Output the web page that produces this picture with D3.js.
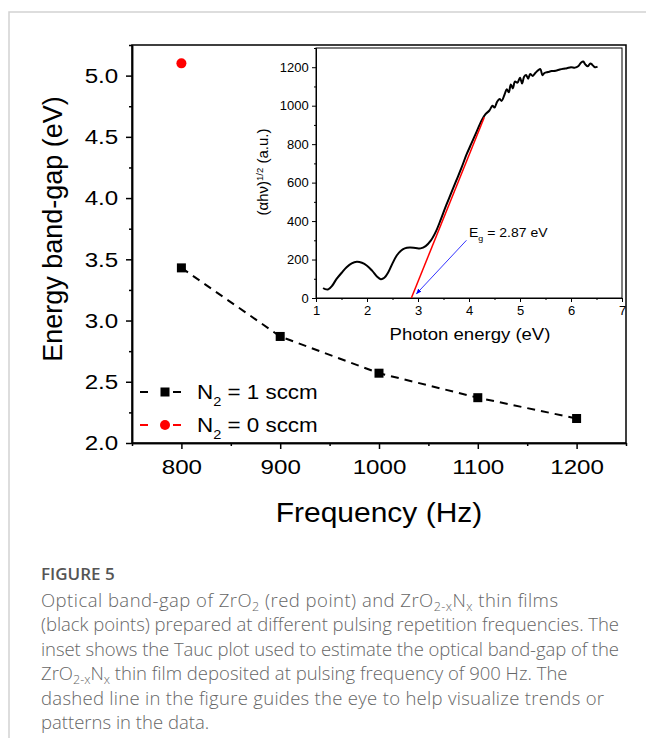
<!DOCTYPE html>
<html>
<head>
<meta charset="utf-8">
<script src="https://cdn.jsdelivr.net/npm/d3@7"></script>
<style>
  body { margin: 0; background: #fff; }
  svg { display: block; }
  .ax text { font-family: "Liberation Sans", Arial, sans-serif; fill: #000; }
  .ax path, .ax line { stroke: #000; }
</style>
</head>
<body>
<script>
// Main chart data: band gap vs pulsing frequency
const frequencies = [ 800, 900, 1000, 1100, 1200 ];
const bandGapN1 = [ 3.43, 2.87, 2.57, 2.37, 2.20 ];
const frequencyN0 = [ 800 ];
const bandGapN0 = [ 5.10 ];
const xTicks = [ 800, 900, 1000, 1100, 1200 ];
const xMinorTicks = [ 750, 850, 950, 1050, 1150, 1250 ];
const yTicks = [ 2.0, 2.5, 3.0, 3.5, 4.0, 4.5, 5.0 ];
const yMinorTicks = [ 2.25, 2.75, 3.25, 3.75, 4.25, 4.75, 5.25 ];

// Inset data: Tauc plot
const photonEnergy = [ 1.14, 1.18, 1.24, 1.32, 1.40, 1.50, 1.60, 1.70, 1.80, 1.90, 2.00, 2.10, 2.20, 2.27, 2.34, 2.42, 2.50, 2.58, 2.66, 2.74, 2.84, 2.95, 3.05, 3.15, 3.25, 3.35, 3.45, 3.55, 3.65, 3.75, 3.85, 3.95, 4.05, 4.15, 4.25, 4.32, 4.40, 4.46, 4.50, 4.55, 4.60, 4.64, 4.70, 4.74, 4.78, 4.82, 4.86, 4.90, 4.95, 5.00, 5.04, 5.08, 5.12, 5.16, 5.20, 5.25, 5.30, 5.36, 5.40, 5.44, 5.48, 5.55, 5.62, 5.70, 5.78, 5.85, 5.92, 6.00, 6.08, 6.14, 6.20, 6.24, 6.28, 6.33, 6.38, 6.42, 6.47, 6.52 ];
const taucValues = [ 52, 46, 45, 65, 98, 130, 160, 180, 188, 183, 168, 142, 110, 98, 105, 135, 180, 220, 245, 258, 262, 260, 258, 270, 298, 345, 410, 480, 545, 610, 675, 745, 805, 865, 925, 955, 975, 1000, 990, 1020, 1035, 1025, 1060, 1085, 1070, 1110, 1090, 1125, 1120, 1145, 1115, 1150, 1160, 1140, 1165, 1155, 1170, 1185, 1190, 1158, 1170, 1175, 1180, 1182, 1188, 1192, 1195, 1200, 1198, 1205, 1225, 1230, 1215, 1205, 1220, 1212, 1200, 1203 ];
const fitEnergy = [ 2.87, 4.30 ];
const fitValues = [ 0, 940 ];
const arrowEnergy = [ 3.95, 2.97 ];
const arrowValues = [ 300, 22 ];
const insetXTicks = [ 1, 2, 3, 4, 5, 6, 7 ];
const insetXMinor = [ 1.5, 2.5, 3.5, 4.5, 5.5, 6.5 ];
const insetYTicks = [ 0, 200, 400, 600, 800, 1000, 1200 ];
const insetYMinor = [ 100, 300, 500, 700, 900, 1100, 1300 ];

const FONT = "Liberation Sans, Arial, sans-serif";

const svg = d3.select( "body" )
  .append( "svg" )
  .attr( "width", 646 )
  .attr( "height", 738 );

// the figure image is a bit wider than tall, so horizontal text is stretched
function wideText( px, py, size, sx ) {
  return svg.append( "text" )
    .attr( "transform", `translate(${ px },${ py }) scale(${ sx },1)` )
    .style( "font-family", FONT )
    .style( "font-size", size + "px" );
}

// page border
svg.append( "path" )
  .attr( "d", "M9,738V12H646" )
  .attr( "fill", "none" )
  .attr( "stroke", "#d2d2d2" )
  .attr( "stroke-width", 1.5 );

const x = d3.scaleLinear().domain( [ 750, 1250 ] ).range( [ 132, 626 ] );
const y = d3.scaleLinear().domain( [ 2, 5.25 ] ).range( [ 443, 45 ] );

// frame
svg.append( "rect" )
  .attr( "x", x.range()[ 0 ] )
  .attr( "y", y.range()[ 1 ] )
  .attr( "width", x.range()[ 1 ] - x.range()[ 0 ] )
  .attr( "height", y.range()[ 0 ] - y.range()[ 1 ] )
  .attr( "fill", "none" )
  .attr( "stroke", "#000" )
  .attr( "stroke-width", 1.5 );

svg.append( "g" )
  .attr( "class", "ax main" )
  .attr( "transform", `translate(0,${ y.range()[ 0 ] })` )
  .call( d3.axisBottom( x ).tickValues( xTicks ).tickSize( 6 ).tickSizeOuter( 0 ).tickPadding( 10 ).tickFormat( d3.format( "d" ) ) );
svg.append( "g" )
  .attr( "class", "ax" )
  .attr( "transform", `translate(0,${ y.range()[ 0 ] })` )
  .call( d3.axisBottom( x ).tickValues( xMinorTicks ).tickSize( 3 ).tickSizeOuter( 0 ).tickFormat( "" ) );

svg.append( "g" )
  .attr( "class", "ax main" )
  .attr( "transform", `translate(${ x.range()[ 0 ] },0)` )
  .call( d3.axisLeft( y ).tickValues( yTicks ).tickSize( 6 ).tickSizeOuter( 0 ).tickPadding( 6 ).tickFormat( d3.format( ".1f" ) ) );
svg.append( "g" )
  .attr( "class", "ax" )
  .attr( "transform", `translate(${ x.range()[ 0 ] },0)` )
  .call( d3.axisLeft( y ).tickValues( yMinorTicks ).tickSize( 3 ).tickSizeOuter( 0 ).tickFormat( "" ) );

svg.selectAll( ".main text" )
  .style( "font-size", "21px" )
  .attr( "transform", "scale(1.15,1)" );
svg.selectAll( ".ax path, .ax line" ).attr( "stroke-width", 1.5 );

// axis titles
svg.append( "text" )
  .attr( "transform", `translate(62,229) rotate(-90)` )
  .attr( "text-anchor", "middle" )
  .style( "font-family", FONT )
  .style( "font-size", "27px" )
  .text( "Energy band-gap (eV)" );

wideText( ( x.range()[ 0 ] + x.range()[ 1 ] ) / 2, 522, 27, 1.11 )
  .attr( "text-anchor", "middle" )
  .text( "Frequency (Hz)" );

// N2 = 1 sccm series
svg.append( "path" )
  .datum( frequencies.map( ( f, i ) => [ f, bandGapN1[ i ] ] ) )
  .attr( "d", d3.line().x( d => x( d[ 0 ] ) ).y( d => y( d[ 1 ] ) ) )
  .attr( "fill", "none" )
  .attr( "stroke", "#000" )
  .attr( "stroke-width", 2 )
  .attr( "stroke-dasharray", "8,6" );

svg.selectAll( "rect.sq" )
  .data( frequencies.map( ( f, i ) => [ f, bandGapN1[ i ] ] ) )
  .enter()
  .append( "rect" )
  .attr( "class", "sq" )
  .attr( "x", d => x( d[ 0 ] ) - 4.5 )
  .attr( "y", d => y( d[ 1 ] ) - 4.5 )
  .attr( "width", 9 )
  .attr( "height", 9 )
  .attr( "fill", "#000" );

// N2 = 0 sccm
svg.selectAll( "circle.red" )
  .data( frequencyN0.map( ( f, i ) => [ f, bandGapN0[ i ] ] ) )
  .enter()
  .append( "circle" )
  .attr( "class", "red" )
  .attr( "cx", d => x( d[ 0 ] ) )
  .attr( "cy", d => y( d[ 1 ] ) )
  .attr( "r", 5 )
  .attr( "fill", "#f00" );

// legend
const legendRows = [ { label: "1", color: "#000", shape: "square", ly: 392 },
                     { label: "0", color: "#f00", shape: "circle", ly: 425 } ];
legendRows.forEach( r => {
  svg.append( "line" )
    .attr( "x1", 140 ).attr( "x2", 181 )
    .attr( "y1", r.ly ).attr( "y2", r.ly )
    .attr( "stroke", r.color )
    .attr( "stroke-width", 2 )
    .attr( "stroke-dasharray", "8,25" );
  if( r.shape === "square" ) {
    svg.append( "rect" )
      .attr( "x", 160.5 ).attr( "y", r.ly - 4.5 )
      .attr( "width", 9 ).attr( "height", 9 )
      .attr( "fill", r.color );
  } else {
    svg.append( "circle" )
      .attr( "cx", 165 ).attr( "cy", r.ly )
      .attr( "r", 5 )
      .attr( "fill", r.color );
  }
  const t = wideText( 197, r.ly + 7, 20, 1.12 );
  t.append( "tspan" ).text( "N" );
  t.append( "tspan" ).attr( "dy", 7 ).style( "font-size", "13px" ).text( "2" );
  t.append( "tspan" ).attr( "dy", -7 ).text( " = " + r.label + " sccm" );
} );

// ---------- inset ----------
const xi = d3.scaleLinear().domain( [ 1, 7 ] ).range( [ 316, 622 ] );
const yi = d3.scaleLinear().domain( [ 0, 1300 ] ).range( [ 298, 48 ] );

svg.append( "rect" )
  .attr( "x", xi.range()[ 0 ] )
  .attr( "y", yi.range()[ 1 ] )
  .attr( "width", xi.range()[ 1 ] - xi.range()[ 0 ] )
  .attr( "height", yi.range()[ 0 ] - yi.range()[ 1 ] )
  .attr( "fill", "#fff" )
  .attr( "stroke", "#000" )
  .attr( "stroke-width", 1 );

svg.append( "g" )
  .attr( "class", "ax inset" )
  .attr( "transform", `translate(0,${ yi.range()[ 0 ] })` )
  .call( d3.axisBottom( xi ).tickValues( insetXTicks ).tickSize( 4 ).tickSizeOuter( 0 ).tickPadding( 4 ).tickFormat( d3.format( "d" ) ) );
svg.append( "g" )
  .attr( "class", "ax inset" )
  .attr( "transform", `translate(0,${ yi.range()[ 0 ] })` )
  .call( d3.axisBottom( xi ).tickValues( insetXMinor ).tickSize( 2 ).tickSizeOuter( 0 ).tickFormat( "" ) );
svg.append( "g" )
  .attr( "class", "ax inset" )
  .attr( "transform", `translate(${ xi.range()[ 0 ] },0)` )
  .call( d3.axisLeft( yi ).tickValues( insetYTicks ).tickSize( 4 ).tickSizeOuter( 0 ).tickPadding( 3 ).tickFormat( d3.format( "d" ) ) );
svg.append( "g" )
  .attr( "class", "ax inset" )
  .attr( "transform", `translate(${ xi.range()[ 0 ] },0)` )
  .call( d3.axisLeft( yi ).tickValues( insetYMinor ).tickSize( 2 ).tickSizeOuter( 0 ).tickFormat( "" ) );
svg.selectAll( ".inset text" )
  .style( "font-size", "12.5px" )
  .attr( "transform", "scale(1.04,1)" );
svg.selectAll( ".inset path, .inset line" ).attr( "stroke-width", 1 );

svg.append( "text" )
  .attr( "transform", `translate(268,172) rotate(-90)` )
  .attr( "text-anchor", "middle" )
  .style( "font-family", FONT )
  .style( "font-size", "15px" )
  .call( t => {
    t.append( "tspan" ).text( "(αhν)" );
    t.append( "tspan" ).attr( "dy", -5 ).style( "font-size", "9.5px" ).text( "1/2" );
    t.append( "tspan" ).attr( "dy", 5 ).text( " (a.u.)" );
  } );

wideText( 470, 340, 16, 1.16 )
  .attr( "text-anchor", "middle" )
  .text( "Photon energy (eV)" );

// Tauc curve
svg.append( "path" )
  .datum( photonEnergy.map( ( e, i ) => [ e, taucValues[ i ] ] ) )
  .attr( "d", d3.line().curve( d3.curveCatmullRom ).x( d => xi( d[ 0 ] ) ).y( d => yi( d[ 1 ] ) ) )
  .attr( "fill", "none" )
  .attr( "stroke", "#000" )
  .attr( "stroke-width", 2 );

// linear fit
svg.append( "path" )
  .datum( fitEnergy.map( ( e, i ) => [ e, fitValues[ i ] ] ) )
  .attr( "d", d3.line().x( d => xi( d[ 0 ] ) ).y( d => yi( d[ 1 ] ) ) )
  .attr( "stroke", "#f00" )
  .attr( "stroke-width", 1.5 );

// arrow
svg.append( "defs" ).append( "marker" )
  .attr( "id", "arr" )
  .attr( "viewBox", "0 0 10 10" )
  .attr( "refX", 9 ).attr( "refY", 5 )
  .attr( "markerWidth", 7 ).attr( "markerHeight", 7 )
  .attr( "orient", "auto" )
  .append( "path" )
  .attr( "d", "M0,1L10,5L0,9Z" )
  .attr( "fill", "#00f" );
svg.append( "line" )
  .attr( "x1", xi( arrowEnergy[ 0 ] ) ).attr( "y1", yi( arrowValues[ 0 ] ) )
  .attr( "x2", xi( arrowEnergy[ 1 ] ) ).attr( "y2", yi( arrowValues[ 1 ] ) )
  .attr( "stroke", "#00f" )
  .attr( "stroke-width", 0.8 )
  .attr( "marker-end", "url(#arr)" );

wideText( 469, 237, 12.5, 1.12 )
  .call( t => {
    t.append( "tspan" ).text( "E" );
    t.append( "tspan" ).attr( "dy", 4 ).style( "font-size", "8px" ).text( "g" );
    t.append( "tspan" ).attr( "dy", -4 ).text( " = 2.87 eV" );
  } );

// ---------- caption ----------
const capFont = "'Open Sans', Lato, sans-serif";
svg.append( "text" )
  .attr( "x", 41 ).attr( "y", 580 )
  .style( "font-family", capFont )
  .style( "font-size", "17px" )
  .style( "font-weight", 600 )
  .attr( "fill", "#555" )
  .text( "FIGURE 5" );

const captionLines = [
  [ "Optical band-gap of ZrO", [ "2" ], " (red point) and ZrO", [ "2-x" ], "N", [ "x" ], " thin films" ],
  [ "(black points) prepared at different pulsing repetition frequencies. The" ],
  [ "inset shows the Tauc plot used to estimate the optical band-gap of the" ],
  [ "ZrO", [ "2-x" ], "N", [ "x" ], " thin film deposited at pulsing frequency of 900 Hz. The" ],
  [ "dashed line in the figure guides the eye to help visualize trends or" ],
  [ "patterns in the data." ]
];
const captionWidths = [ 517, 578, 578, 0, 563, 0 ];

captionLines.forEach( ( parts, li ) => {
  const t = svg.append( "text" )
    .attr( "x", 41 )
    .attr( "y", 607 + li * 24.4 )
    .style( "font-family", capFont )
    .style( "font-size", "18.5px" )
    .style( "font-weight", 300 )
    .attr( "fill", "#666" );
  if( captionWidths[ li ] ) t.attr( "textLength", captionWidths[ li ] ).attr( "lengthAdjust", "spacing" );
  let shifted = false;
  parts.forEach( p => {
    if( Array.isArray( p ) ) {
      t.append( "tspan" ).attr( "dy", shifted ? 0 : 4 ).style( "font-size", "12.5px" ).text( p[ 0 ] );
      shifted = true;
    } else {
      t.append( "tspan" ).attr( "dy", shifted ? -4 : 0 ).text( p );
      shifted = false;
    }
  } );
} );
</script>
</body>
</html>
